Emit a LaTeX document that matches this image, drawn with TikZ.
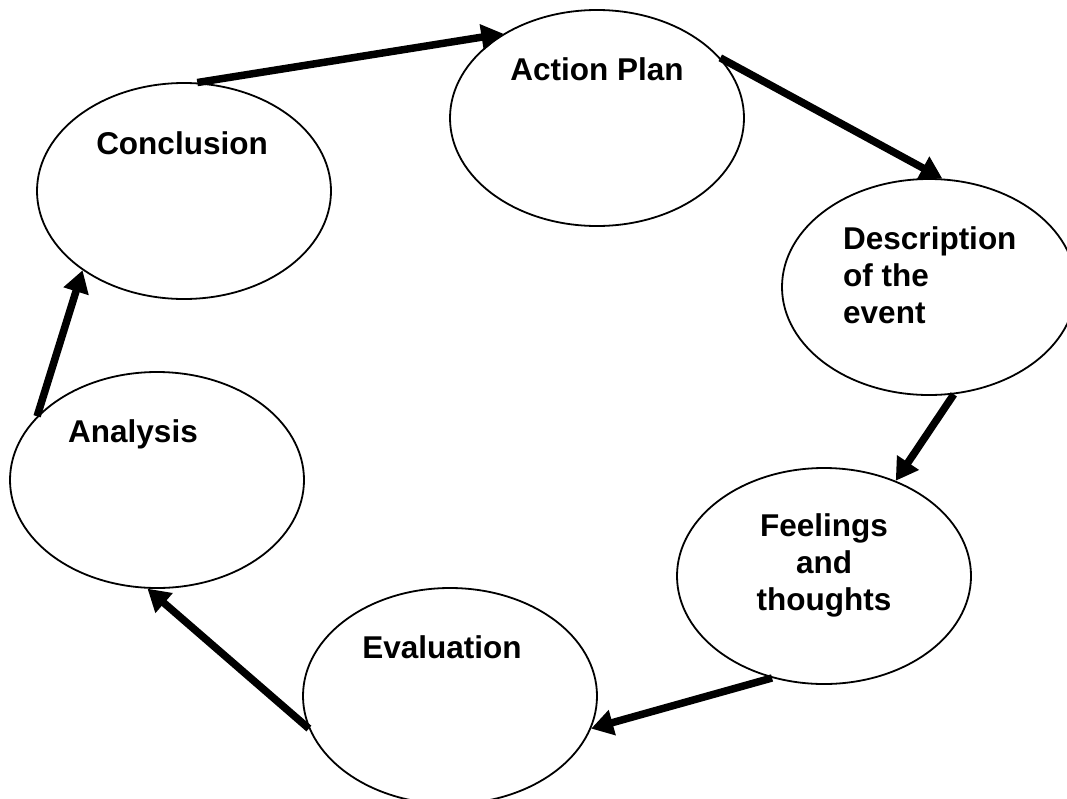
\documentclass[tikz,border=0pt]{standalone}
\usepackage{fontspec}
\setmainfont{Liberation Sans}
\usetikzlibrary{shapes.geometric, arrows.meta}
\tikzstyle{stage} = [ellipse, minimum width=294pt, minimum height=216pt, draw=black, line width=1.8pt, inner sep=0pt]
\tikzstyle{caption} = [anchor=base, inner sep=0pt, font=\bfseries\fontsize{31.5}{37}\selectfont]
\tikzstyle{arrow} = [line width=7.5pt, -{Triangle[length=22pt, width=25pt]}]
\begin{document}
\begin{tikzpicture}[x=1pt, y=-1pt]
\useasboundingbox (0,0) rectangle (1067,798);
\clip (0,0) rectangle (1067,798);

% Stages
\node (action-plan) [stage] at (597,118) {};
\node (action-plan-text) [caption] at (597,80) {Action Plan};

\node (description) [stage] at (929,287) {};
\node (description-text) [caption, anchor=base west, align=left] at (843,323) {Description\\of the\\event};

\node (feelings) [stage] at (824,576) {};
\node (feelings-text) [caption, align=center] at (824,610) {Feelings\\and\\thoughts};

\node (evaluation) [stage] at (450,696) {};
\node (evaluation-text) [caption] at (442,658) {Evaluation};

\node (analysis) [stage] at (157,480) {};
\node (analysis-text) [caption] at (133,442) {Analysis};

\node (conclusion) [stage] at (184,191) {};
\node (conclusion-text) [caption] at (182,154) {Conclusion};

% Arrows
\draw [arrow] (conclusion.83) -- (action-plan.138);
\draw [arrow] (action-plan.26) -- (description.83);
\draw [arrow] (description.-77) -- (feelings.53);
\draw [arrow] (feelings.-117) -- (evaluation.-13);
\draw [arrow] (evaluation.193) -- (analysis.-95);
\draw [arrow] (analysis.152) -- (conclusion.218);

\end{tikzpicture}
\end{document}
